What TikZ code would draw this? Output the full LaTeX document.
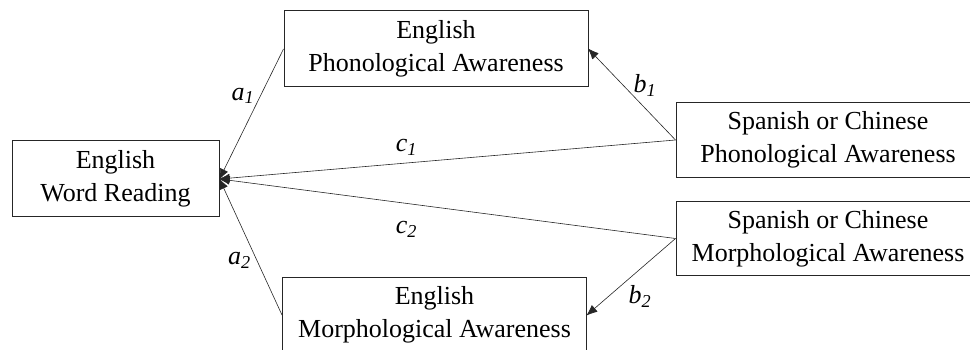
\documentclass[tikz,border=0pt]{standalone}
\usepackage{fontspec}
\setmainfont{Liberation Serif}
\usetikzlibrary{arrows.meta,positioning}

\begin{document}
\begin{tikzpicture}[
    x=1pt, y=-1pt,
    font=\fontsize{26}{33}\selectfont,
    arrow/.style={
        -{Latex[round,length=11pt,width=9pt]},
        draw=black!85,
        line width=0.6pt
    },
    box/.style={
        rectangle,
        draw=black!85,
        fill=white,
        line width=1pt,
        align=center,
        minimum width=304pt,
        minimum height=76pt,
        inner sep=2pt
    },
    coef/.style={
        font=\fontsize{26}{30}\selectfont\itshape,
        inner sep=2pt
    }
]
\useasboundingbox (0,0) rectangle (970,350);
\clip (0,0) rectangle (970,350);

\node[box, minimum width=207pt] (read) at (115.5,179) {English\\Word Reading};
\node[box] (ephon) at (436,49) {English\\Phonological Awareness};
\node[box] (emorph) at (434.5,315) {English\\Morphological Awareness};
\node[box, minimum height=75pt] (sphon) at (828,140) {Spanish or Chinese\\Phonological Awareness};
\node[box, minimum height=74pt] (smorph) at (828,238.5) {Spanish or Chinese\\Morphological Awareness};

\draw[arrow] (ephon.west) -- node[coef, pos=0.36, left=4pt] {a\textsubscript{1}} (read.east);
\draw[arrow] (emorph.west) -- node[coef, pos=0.4, left=4pt] {a\textsubscript{2}} (read.east);
\draw[arrow] (sphon.west) -- node[coef, pos=0.59, above=5pt] {c\textsubscript{1}} (read.east);
\draw[arrow] (smorph.west) -- node[coef, pos=0.59, below=16pt] {c\textsubscript{2}} (read.east);

\draw[arrow] (sphon.west) -- node[coef, pos=0.6, right=8pt] {b\textsubscript{1}} (ephon.east);
\draw[arrow] (smorph.west) -- node[coef, pos=0.76, right=18pt] {b\textsubscript{2}} (emorph.east);

\end{tikzpicture}
\end{document}
